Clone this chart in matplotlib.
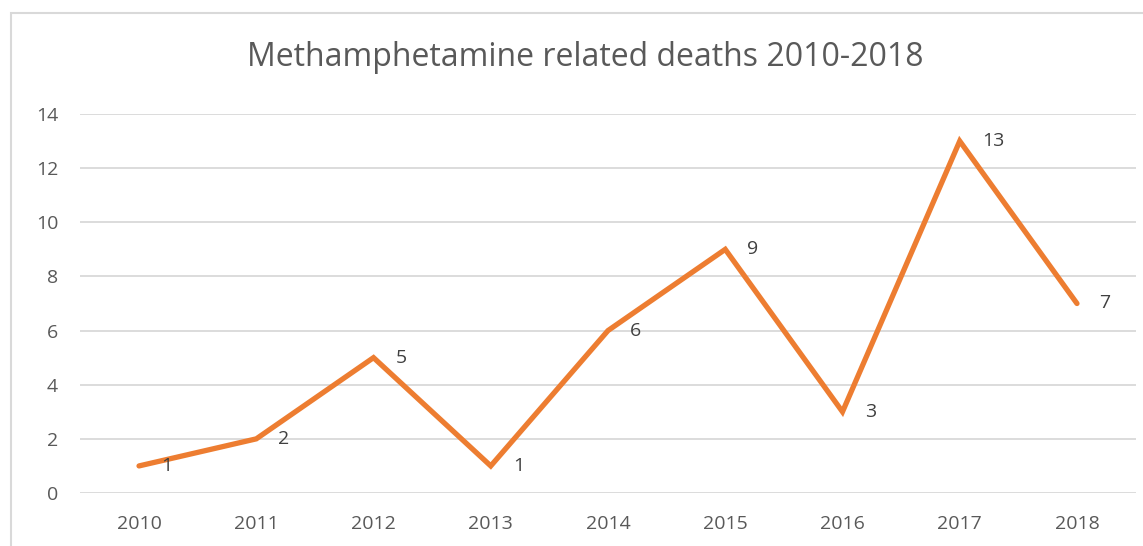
import matplotlib
matplotlib.use("Agg")
import matplotlib.pyplot as plt
from matplotlib.patches import Rectangle

years = ["2010", "2011", "2012", "2013", "2014", "2015", "2016", "2017", "2018"]
deaths = [1, 2, 5, 1, 6, 9, 3, 13, 7]
yticks = [0, 2, 4, 6, 8, 10, 12, 14]

plt.rcParams['font.family'] = ['Open Sans', 'DejaVu Sans']

W, H = 1143, 546
fig = plt.figure(figsize=(W / 100, H / 100), dpi=100)
fig.patch.set_facecolor('white')

# chart border (right and bottom edges lie outside the image)
fig.patches.append(Rectangle((11 / W, -0.2), 1.2, (H - 13) / H + 0.2, transform=fig.transFigure,
                             fill=False, edgecolor='#d9d9d9', linewidth=1.5))

left, right = 80.4 / W, 1135.6 / W
bottom_px, top_px = 493, 114
ax = fig.add_axes([left, 1 - bottom_px / H, right - left, (bottom_px - top_px) / H])
x = list(range(len(years)))
ax.plot(x, deaths, color='#ED7D31', linewidth=3.8, solid_capstyle='round',
        solid_joinstyle='miter', zorder=3)
for xi, v in zip(x, deaths):
    ax.annotate(str(v), (xi, v), xytext=(16, 0), textcoords='offset points',
                ha='left', va='center', fontsize=14, color='#404040')

ax.set_xlim(-0.5, len(years) - 0.5)
ax.set_ylim(0, 14)
ax.set_yticks(yticks)
ax.set_xticks(x)
ax.set_xticklabels(years)
ax.tick_params(axis='both', length=0, labelsize=14, labelcolor='#595959')
ax.tick_params(axis='y', pad=16)
ax.tick_params(axis='x', pad=16)
ax.grid(axis='y', color='#d9d9d9', linewidth=1.3)
ax.set_axisbelow(True)
for s in ax.spines.values():
    s.set_visible(False)

fig.text(585 / W, 1 - 57 / H, "Methamphetamine related deaths 2010-2018",
         ha='center', va='center', fontsize=23, color='#595959')

fig.savefig("out.png", dpi=100)
